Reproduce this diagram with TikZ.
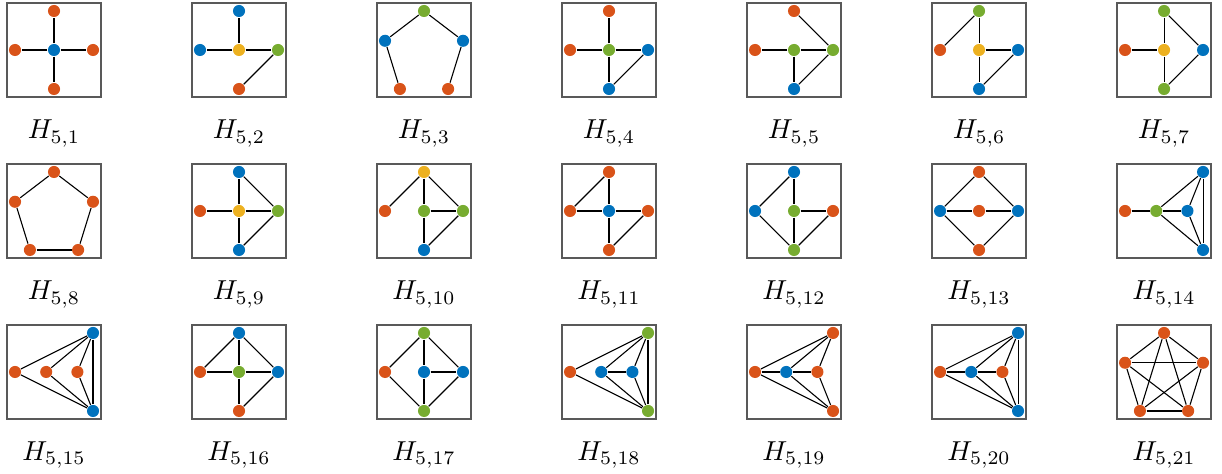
\documentclass[tikz,border=0pt]{standalone}
\usepackage{tikz}
\usetikzlibrary{calc}
\definecolor{mblue}{RGB}{0,114,189}
\definecolor{mred}{RGB}{217,83,25}
\definecolor{myellow}{RGB}{237,177,32}
\definecolor{mgreen}{RGB}{119,172,48}

\begin{document}
\begin{tikzpicture}[x=0.5cm,y=0.5cm]

		\def\cs{4.744}
		\def\rs{4.128}

		\tikzset{line/.style={draw,line width=0.4pt}}
		\tikzset{frame/.style={draw=black!65,line width=0.6pt}}
		\tikzset{vert/.style={shape=circle,inner sep=0pt,minimum size=0.155cm}}

		\useasboundingbox (-1.385,1.282) rectangle (29.95,-10.872);

		% Cross: number/top/left/centre/right/bottom
		\tikzset{pics/cross/.style args={#1/#2/#3/#4/#5/#6}{code={%
							\draw[frame] (-1.205,-1.205) rectangle (1.205,1.205);
							\node[anchor=base] (-lab) at (0,-2.28) {$H_{5,#1}$};
							\node[vert,fill=#2] (-t) at (0,1) {};
							\node[vert,fill=#3] (-l) at (-1,0) {};
							\node[vert,fill=#4] (-c) at (0,0) {};
							\node[vert,fill=#5] (-r) at (1,0) {};
							\node[vert,fill=#6] (-b) at (0,-1) {};
						}}}

		% Pentagon: number/colours from the top, anticlockwise
		\tikzset{pics/pent/.style args={#1/#2/#3/#4/#5/#6}{code={%
							\draw[frame] (-1.205,-1.205) rectangle (1.205,1.205);
							\node[anchor=base] (-lab) at (0,-2.28) {$H_{5,#1}$};
							\node[vert,fill=#2] (-1) at (0,1) {};
							\node[vert,fill=#3] (-2) at (-1,0.236) {};
							\node[vert,fill=#4] (-3) at (-0.618,-1) {};
							\node[vert,fill=#5] (-4) at (0.618,-1) {};
							\node[vert,fill=#6] (-5) at (1,0.236) {};
						}}}

		% Fan: number/left/inner/outer/upper corner/lower corner
		\tikzset{pics/fan/.style args={#1/#2/#3/#4/#5/#6}{code={%
							\draw[frame] (-1.205,-1.205) rectangle (1.205,1.205);
							\node[anchor=base] (-lab) at (0,-2.28) {$H_{5,#1}$};
							\node[vert,fill=#2] (-a) at (-1,0) {};
							\node[vert,fill=#3] (-g) at (-0.2,0) {};
							\node[vert,fill=#4] (-m) at (0.6,0) {};
							\node[vert,fill=#5] (-u) at (1,1) {};
							\node[vert,fill=#6] (-d) at (1,-1) {};
						}}}

		\pic (h1) at (0,0) {cross=1/mred/mred/mblue/mred/mred};
		\pic (h2) at (\cs,0) {cross=2/mblue/mblue/myellow/mgreen/mred};
		\pic (h3) at (2*\cs,0) {pent=3/mgreen/mblue/mred/mred/mblue};
		\pic (h4) at (3*\cs,0) {cross=4/mred/mred/mgreen/mblue/mblue};
		\pic (h5) at (4*\cs,0) {cross=5/mred/mred/mgreen/mgreen/mblue};
		\pic (h6) at (5*\cs,0) {cross=6/mgreen/mred/myellow/mblue/mblue};
		\pic (h7) at (6*\cs,0) {cross=7/mgreen/mred/myellow/mblue/mgreen};

		\pic (h8) at (0,-\rs) {pent=8/mred/mred/mred/mred/mred};
		\pic (h9) at (\cs,-\rs) {cross=9/mblue/mred/myellow/mgreen/mblue};
		\pic (h10) at (2*\cs,-\rs) {cross=10/myellow/mred/mgreen/mgreen/mblue};
		\pic (h11) at (3*\cs,-\rs) {cross=11/mred/mred/mblue/mred/mred};
		\pic (h12) at (4*\cs,-\rs) {cross=12/mblue/mblue/mgreen/mred/mgreen};
		\pic (h13) at (5*\cs,-\rs) {cross=13/mred/mblue/mred/mblue/mred};
		\pic (h14) at (6*\cs,-\rs) {fan=14/mred/mgreen/mblue/mblue/mblue};

		\pic (h15) at (0,-2*\rs) {fan=15/mred/mred/mred/mblue/mblue};
		\pic (h16) at (\cs,-2*\rs) {cross=16/mblue/mred/mgreen/mblue/mred};
		\pic (h17) at (2*\cs,-2*\rs) {cross=17/mgreen/mred/mblue/mblue/mgreen};
		\pic (h18) at (3*\cs,-2*\rs) {fan=18/mred/mblue/mblue/mgreen/mgreen};
		\pic (h19) at (4*\cs,-2*\rs) {fan=19/mred/mblue/mred/mred/mred};
		\pic (h20) at (5*\cs,-2*\rs) {fan=20/mred/mblue/mred/mblue/mblue};
		\pic (h21) at (6*\cs,-2*\rs) {pent=21/mred/mred/mred/mred/mred};

		\foreach \a/\b in {c/t,c/l,c/r,c/b} \path[line] (h1-\a) to (h1-\b);
		\foreach \a/\b in {c/t,c/l,c/r,r/b} \path[line] (h2-\a) to (h2-\b);
		\foreach \a/\b in {3/2,2/1,1/5,5/4} \path[line] (h3-\a) to (h3-\b);
		\foreach \a/\b in {c/t,c/l,c/r,c/b,r/b} \path[line] (h4-\a) to (h4-\b);
		\foreach \a/\b in {t/r,c/l,c/r,c/b,b/r} \path[line] (h5-\a) to (h5-\b);
		\foreach \a/\b in {l/t,t/c,c/r,c/b,b/r} \path[line] (h6-\a) to (h6-\b);
		\foreach \a/\b in {l/c,t/c,c/b,t/r,b/r} \path[line] (h7-\a) to (h7-\b);

		\foreach \a/\b in {1/2,2/3,3/4,4/5,5/1} \path[line] (h8-\a) to (h8-\b);
		\foreach \a/\b in {c/t,c/l,c/r,c/b,t/r,b/r} \path[line] (h9-\a) to (h9-\b);
		\foreach \a/\b in {l/t,t/c,t/r,c/r,c/b,b/r} \path[line] (h10-\a) to (h10-\b);
		\foreach \a/\b in {l/t,t/c,l/c,c/r,c/b,b/r} \path[line] (h11-\a) to (h11-\b);
		\foreach \a/\b in {l/t,t/c,l/b,c/b,c/r,b/r} \path[line] (h12-\a) to (h12-\b);
		\foreach \a/\b in {l/t,t/r,l/c,c/r,l/b,b/r} \path[line] (h13-\a) to (h13-\b);
		\foreach \a/\b in {a/g,g/m,g/u,g/d,m/u,m/d,u/d} \path[line] (h14-\a) to (h14-\b);

		\foreach \a/\b in {a/u,a/d,g/u,g/d,m/u,m/d,u/d} \path[line] (h15-\a) to (h15-\b);
		\foreach \a/\b in {l/t,t/r,t/c,l/c,c/r,c/b,b/r} \path[line] (h16-\a) to (h16-\b);
		\foreach \a/\b in {l/t,l/b,t/c,t/r,c/r,c/b,b/r} \path[line] (h17-\a) to (h17-\b);
		\foreach \a/\b in {a/u,a/d,g/m,g/u,g/d,m/u,m/d,u/d} \path[line] (h18-\a) to (h18-\b);
		\foreach \a/\b in {a/g,a/u,a/d,g/m,g/u,g/d,m/u,m/d} \path[line] (h19-\a) to (h19-\b);
		\foreach \a/\b in {a/g,a/u,a/d,g/m,g/u,g/d,m/u,m/d,u/d} \path[line] (h20-\a) to (h20-\b);
		\foreach \a/\b in {1/2,1/3,1/4,1/5,2/3,2/4,2/5,3/4,3/5,4/5} \path[line] (h21-\a) to (h21-\b);

	\end{tikzpicture}
\end{document}
